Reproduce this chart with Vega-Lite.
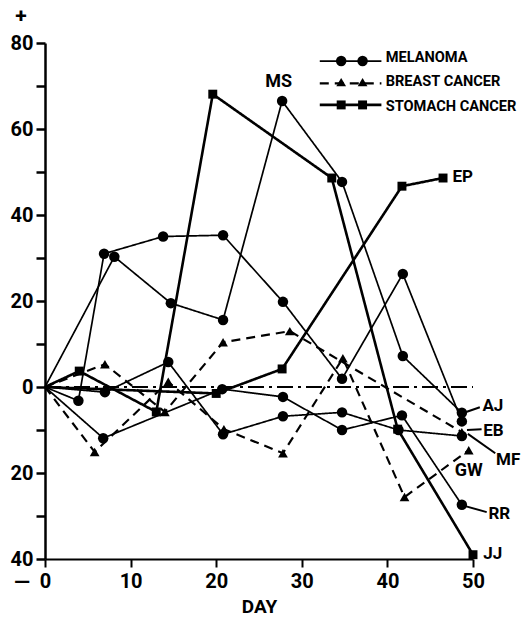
{
  "$schema": "https://vega.github.io/schema/vega-lite/v6.json",
  "width": 428,
  "height": 516,
  "autosize": {"type": "none"},
  "padding": {"left": 45, "top": 43, "right": 48, "bottom": 66},
  "background": "white",
  "config": {
    "view": {"stroke": null},
    "font": "Roboto",
    "axis": {"labelFont": "Roboto", "titleFont": "Roboto"}
  },
  "datasets": {
    "series": [
      {"id": "M1", "type": "melanoma", "day": 0, "pct": 0},
      {"id": "M1", "type": "melanoma", "day": 8.1, "pct": 30.3},
      {"id": "M1", "type": "melanoma", "day": 14.7, "pct": 19.5},
      {"id": "M1", "type": "melanoma", "day": 20.8, "pct": 15.6},
      {"id": "M1", "type": "melanoma", "day": 27.7, "pct": 66.5},
      {"id": "M1", "type": "melanoma", "day": 34.7, "pct": 47.7},
      {"id": "M1", "type": "melanoma", "day": 41.8, "pct": 7.2},
      {"id": "M1", "type": "melanoma", "day": 48.7, "pct": -6},
      {"id": "M2", "type": "melanoma", "day": 0, "pct": 0},
      {"id": "M2", "type": "melanoma", "day": 3.9, "pct": -3.2},
      {"id": "M2", "type": "melanoma", "day": 6.9, "pct": 31},
      {"id": "M2", "type": "melanoma", "day": 13.8, "pct": 35},
      {"id": "M2", "type": "melanoma", "day": 20.8, "pct": 35.3},
      {"id": "M2", "type": "melanoma", "day": 27.8, "pct": 19.8},
      {"id": "M2", "type": "melanoma", "day": 34.7, "pct": 1.9},
      {"id": "M2", "type": "melanoma", "day": 41.8, "pct": 26.3},
      {"id": "M2", "type": "melanoma", "day": 48.7, "pct": -8},
      {"id": "M3", "type": "melanoma", "day": 0, "pct": 0},
      {"id": "M3", "type": "melanoma", "day": 7, "pct": -1.2},
      {"id": "M3", "type": "melanoma", "day": 14.4, "pct": 5.8},
      {"id": "M3", "type": "melanoma", "day": 20.8, "pct": -11},
      {"id": "M3", "type": "melanoma", "day": 27.8, "pct": -6.8},
      {"id": "M3", "type": "melanoma", "day": 34.7, "pct": -5.9},
      {"id": "M3", "type": "melanoma", "day": 41.3, "pct": -10},
      {"id": "M3", "type": "melanoma", "day": 48.7, "pct": -11.4},
      {"id": "M4", "type": "melanoma", "day": 0, "pct": 0},
      {"id": "M4", "type": "melanoma", "day": 6.8, "pct": -11.9},
      {"id": "M4", "type": "melanoma", "day": 20.7, "pct": -0.5},
      {"id": "M4", "type": "melanoma", "day": 27.8, "pct": -2.3},
      {"id": "M4", "type": "melanoma", "day": 34.7, "pct": -10},
      {"id": "M4", "type": "melanoma", "day": 41.7, "pct": -6.6},
      {"id": "M4", "type": "melanoma", "day": 48.7, "pct": -27.4},
      {"id": "B1", "type": "breast", "day": 0, "pct": 0},
      {"id": "B1", "type": "breast", "day": 7, "pct": 5.3},
      {"id": "B1", "type": "breast", "day": 14, "pct": -5.8},
      {"id": "B1", "type": "breast", "day": 20.8, "pct": 10.4},
      {"id": "B1", "type": "breast", "day": 28.6, "pct": 13},
      {"id": "B1", "type": "breast", "day": 48.7, "pct": -10.5},
      {"id": "B2", "type": "breast", "day": 0, "pct": 0},
      {"id": "B2", "type": "breast", "day": 5.8, "pct": -15.1},
      {"id": "B2", "type": "breast", "day": 14.4, "pct": 1.2},
      {"id": "B2", "type": "breast", "day": 20.9, "pct": -9.8},
      {"id": "B2", "type": "breast", "day": 27.8, "pct": -15.4},
      {"id": "B2", "type": "breast", "day": 34.8, "pct": 6.7},
      {"id": "B2", "type": "breast", "day": 42, "pct": -25.6},
      {"id": "B2", "type": "breast", "day": 49.5, "pct": -14.7},
      {"id": "JJ", "type": "stomach", "day": 0, "pct": 0},
      {"id": "JJ", "type": "stomach", "day": 4, "pct": 3.7},
      {"id": "JJ", "type": "stomach", "day": 13, "pct": -5.8},
      {"id": "JJ", "type": "stomach", "day": 19.6, "pct": 68.1},
      {"id": "JJ", "type": "stomach", "day": 33.5, "pct": 48.6},
      {"id": "JJ", "type": "stomach", "day": 41.2, "pct": -9.8},
      {"id": "JJ", "type": "stomach", "day": 50, "pct": -39},
      {"id": "EP", "type": "stomach", "day": 0, "pct": 0},
      {"id": "EP", "type": "stomach", "day": 20, "pct": -1.5},
      {"id": "EP", "type": "stomach", "day": 27.7, "pct": 4.2},
      {"id": "EP", "type": "stomach", "day": 41.7, "pct": 46.7},
      {"id": "EP", "type": "stomach", "day": 46.5, "pct": 48.6}
    ],
    "baseline": [
      {"day": 0, "pct": 0},
      {"day": 50, "pct": 0}
    ],
    "leaders": [
      {"day": 50.8, "pct": -4.7, "day2": 49.2, "pct2": -5.8},
      {"day": 51.0, "pct": -9.8, "day2": 49.3, "pct2": -10.0},
      {"day": 52.6, "pct": -15.4, "day2": 49.4, "pct2": -10.9},
      {"day": 51.6, "pct": -29.1, "day2": 49.1, "pct2": -27.7}
    ],
    "labelsLeft": [
      {"label": "AJ", "day": 51.1, "pct": -4.4},
      {"label": "EB", "day": 51.2, "pct": -10.2},
      {"label": "MF", "day": 52.7, "pct": -16.9},
      {"label": "RR", "day": 51.8, "pct": -29.5},
      {"label": "JJ", "day": 51.2, "pct": -38.8},
      {"label": "EP", "day": 47.6, "pct": 48.8}
    ],
    "legendText": [
      {"label": "MELANOMA", "day": 39.8, "pct": 76.4},
      {"label": "BREAST CANCER", "day": 39.8, "pct": 70.9},
      {"label": "STOMACH CANCER", "day": 39.8, "pct": 65.1}
    ],
    "labelsCenter": [
      {"label": "MS", "day": 27.3, "pct": 70.9},
      {"label": "GW", "day": 49.5, "pct": -19.5}
    ],
    "signs": [
      {"label": "+", "day": -2.8, "pct": 86.0},
      {"label": "—", "day": -2.7, "pct": -45.6}
    ],
    "legendLines": [
      {"type": "melanoma", "day": 32.1, "day2": 39.3, "pct": 75.8},
      {"type": "breast", "day": 32.1, "day2": 39.3, "pct": 70.6},
      {"type": "stomach", "day": 32.1, "day2": 39.3, "pct": 65.6}
    ],
    "legendPoints": [
      {"type": "melanoma", "day": 34.6, "pct": 75.8},
      {"type": "melanoma", "day": 37.1, "pct": 75.8},
      {"type": "breast", "day": 34.6, "pct": 70.9},
      {"type": "breast", "day": 37.1, "pct": 70.9},
      {"type": "stomach", "day": 34.6, "pct": 65.6},
      {"type": "stomach", "day": 37.1, "pct": 65.6}
    ]
  },
  "layer": [
    {
      "data": {"name": "baseline"},
      "mark": {"type": "line", "color": "black", "strokeWidth": 2, "strokeDash": [16, 5, 3, 5]},
      "encoding": {
        "x": {
          "field": "day", "type": "quantitative",
          "scale": {"domain": [0, 50], "nice": false, "zero": false},
          "axis": {
            "values": [0, 10, 20, 30, 40, 50],
            "title": "DAY", "titleFontSize": 19, "titleFontWeight": "bold", "titlePadding": 6, "titleColor": "black",
            "labelFontSize": 20, "labelFontWeight": "bold", "labelColor": "black", "labelPadding": 4,
            "tickSize": 8, "tickWidth": 2, "tickColor": "black", "domainColor": "black", "domainWidth": 2,
            "grid": false, "labelOverlap": false, "labelBound": false, "labelFlush": false
          }
        },
        "y": {
          "field": "pct", "type": "quantitative",
          "scale": {"domain": [-40, 80], "nice": false, "zero": false},
          "axis": {
            "values": [-40, -30, -20, -10, 0, 10, 20, 30, 40, 50, 60, 70, 80],
            "labelExpr": "datum.value % 20 == 0 ? abs(datum.value) : ''",
            "title": null,
            "labelFontSize": 20, "labelFontWeight": "bold", "labelColor": "black", "labelPadding": 3,
            "tickSize": 9, "tickWidth": 2.5, "tickColor": "black", "domainColor": "black", "domainWidth": 2.5,
            "grid": false, "labelOverlap": false, "labelBound": false, "labelFlush": false
          }
        }
      }
    },
    {
      "data": {"name": "series"},
      "mark": {"type": "line", "color": "black"},
      "encoding": {
        "x": {"field": "day", "type": "quantitative"},
        "y": {"field": "pct", "type": "quantitative"},
        "detail": {"field": "id"},
        "order": {"field": "day", "type": "quantitative"},
        "strokeDash": {"field": "type", "type": "nominal", "scale": {"domain": ["melanoma", "breast", "stomach"], "range": [[1, 0], [9, 6], [1, 0]]}, "legend": null},
        "strokeWidth": {"field": "type", "type": "nominal", "scale": {"domain": ["melanoma", "breast", "stomach"], "range": [1.7, 2.6, 3.2]}, "legend": null}
      }
    },
    {
      "data": {"name": "series"},
      "transform": [{"filter": "datum.day > 0"}],
      "mark": {"type": "point", "filled": true, "color": "black", "opacity": 1},
      "encoding": {
        "x": {"field": "day", "type": "quantitative"},
        "y": {"field": "pct", "type": "quantitative"},
        "shape": {"field": "type", "type": "nominal", "scale": {"domain": ["melanoma", "breast", "stomach"], "range": ["circle", "triangle-up", "square"]}, "legend": null},
        "size": {"field": "type", "type": "nominal", "scale": {"domain": ["melanoma", "breast", "stomach"], "range": [110, 80, 125]}, "legend": null}
      }
    },
    {
      "data": {"name": "legendLines"},
      "mark": {"type": "rule", "color": "black"},
      "encoding": {
        "x": {"field": "day", "type": "quantitative"},
        "x2": {"field": "day2"},
        "y": {"field": "pct", "type": "quantitative"},
        "strokeDash": {"field": "type", "type": "nominal", "legend": null},
        "strokeWidth": {"field": "type", "type": "nominal", "legend": null}
      }
    },
    {
      "data": {"name": "legendPoints"},
      "mark": {"type": "point", "filled": true, "color": "black", "opacity": 1},
      "encoding": {
        "x": {"field": "day", "type": "quantitative"},
        "y": {"field": "pct", "type": "quantitative"},
        "shape": {"field": "type", "type": "nominal", "legend": null},
        "size": {"field": "type", "type": "nominal", "legend": null}
      }
    },
    {
      "data": {"name": "leaders"},
      "mark": {"type": "rule", "color": "black", "strokeWidth": 2},
      "encoding": {
        "x": {"field": "day", "type": "quantitative"},
        "y": {"field": "pct", "type": "quantitative"},
        "x2": {"field": "day2"},
        "y2": {"field": "pct2"}
      }
    },
    {
      "data": {"name": "labelsLeft"},
      "mark": {"type": "text", "align": "left", "baseline": "middle", "fontSize": 17, "fontWeight": "bold", "color": "black"},
      "encoding": {
        "x": {"field": "day", "type": "quantitative"},
        "y": {"field": "pct", "type": "quantitative"},
        "text": {"field": "label"}
      }
    },
    {
      "data": {"name": "legendText"},
      "mark": {"type": "text", "align": "left", "baseline": "middle", "fontSize": 14.6, "fontWeight": "bold", "color": "black"},
      "encoding": {
        "x": {"field": "day", "type": "quantitative"},
        "y": {"field": "pct", "type": "quantitative"},
        "text": {"field": "label"}
      }
    },
    {
      "data": {"name": "labelsCenter"},
      "mark": {"type": "text", "align": "center", "baseline": "middle", "fontSize": 18, "fontWeight": "bold", "color": "black"},
      "encoding": {
        "x": {"field": "day", "type": "quantitative"},
        "y": {"field": "pct", "type": "quantitative"},
        "text": {"field": "label"}
      }
    },
    {
      "data": {"name": "signs"},
      "mark": {"type": "text", "align": "center", "baseline": "middle", "fontSize": 21, "fontWeight": "bold", "color": "black"},
      "encoding": {
        "x": {"field": "day", "type": "quantitative"},
        "y": {"field": "pct", "type": "quantitative"},
        "text": {"field": "label"}
      }
    }
  ]
}
